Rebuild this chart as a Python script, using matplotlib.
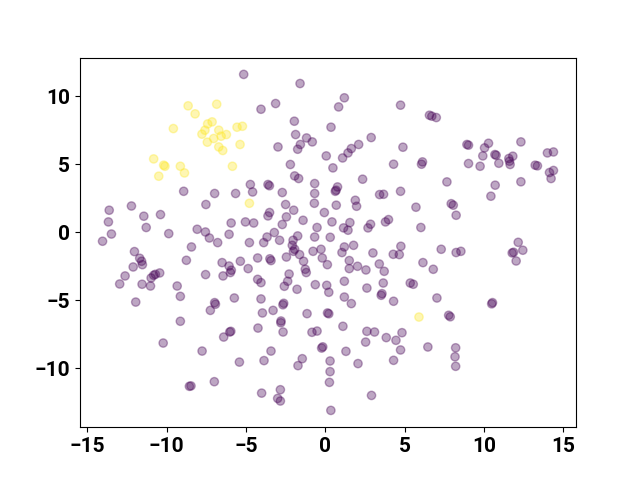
import numpy as np
import matplotlib
matplotlib.use("Agg")
import matplotlib.pyplot as plt

plt.rcParams['font.family'] = ['Roboto', 'DejaVu Sans']
plt.rcParams['font.weight'] = 'bold'
plt.rcParams['font.size'] = 15

# embedding points, class 1 (yellow)
pts_yellow = [
    (-8.64, 9.29), (-8.20, 8.70), (-9.57, 7.62), (-7.77, 7.21), (-7.58, 7.50),
    (-10.81, 5.39), (-10.18, 4.93), (-10.10, 4.85), (-9.13, 4.85), (-8.87, 4.36),
    (-10.49, 4.12), (-6.84, 9.41), (-7.13, 8.11), (-7.41, 7.96), (-7.43, 6.62),
    (-7.03, 6.89), (-6.71, 7.50), (-6.56, 7.06), (-6.23, 7.18), (-6.71, 6.27),
    (-6.46, 6.01), (-5.56, 7.72), (-5.22, 7.79), (-5.37, 6.45), (-5.85, 4.85),
    (-4.78, 2.13), (5.90, -6.23),
]

# embedding points, class 0 (purple)
pts_purple = [
    (-5.14, 11.60), (-1.59, 10.93), (-4.05, 9.04), (-3.13, 9.46), (-1.95, 8.16),
    (-1.87, 7.18), (-1.18, 6.93), (-0.82, 6.64), (-1.57, 6.45), (-1.74, 6.10),
    (-2.98, 6.27), (0.06, 5.61), (-2.20, 4.98), (-1.93, 4.14), (-1.68, 3.95),
    (1.20, 9.88), (0.84, 9.21), (4.74, 9.34), (6.56, 8.60), (6.71, 8.53),
    (6.99, 8.43), (0.36, 7.72), (2.89, 6.96), (2.10, 6.45), (1.64, 6.15),
    (1.43, 5.83), (1.09, 5.46), (0.48, 4.73), (4.89, 6.25), (4.30, 5.00),
    (6.12, 5.17), (6.06, 5.00), (2.35, 3.90), (7.66, 3.70),
    (8.92, 6.45), (9.02, 6.40), (10.03, 6.20), (10.28, 6.54), (9.92, 5.61),
    (10.68, 5.71), (10.76, 5.66), (12.32, 6.64), (9.02, 5.05), (9.75, 4.85),
    (10.93, 5.07), (11.56, 5.42), (11.81, 5.59), (11.60, 5.22), (11.64, 4.98),
    (13.22, 4.93), (13.36, 4.88), (13.99, 5.83), (14.37, 5.90), (14.12, 4.39),
    (14.37, 4.54), (14.22, 3.95), (12.32, 3.71),
    (-8.92, 3.01), (-13.61, 1.62), (-12.21, 1.93), (-13.66, 0.76), (-13.47, -0.13),
    (-14.03, -0.66), (-11.43, 1.18), (-10.38, 1.30), (-11.28, 0.35), (-9.86, -0.10),
    (-8.07, 0.22), (-7.55, 0.02), (-7.52, 2.04), (-8.43, -1.08), (-8.75, -2.06),
    (-12.02, -1.42), (-11.69, -1.91), (-11.52, -2.38), (-12.10, -2.55), (-11.57, -2.13),
    (-12.61, -3.21), (-12.95, -3.80), (-10.43, -2.99), (-10.81, -3.16), (-10.70, -3.09),
    (-10.97, -3.36), (-11.54, -3.82), (-11.01, -3.95), (-9.33, -3.95), (-9.13, -4.71),
    (-11.94, -5.13), (-7.54, -3.11),
    (-4.72, 3.51), (-3.61, 3.51), (-3.52, 3.42), (-6.97, 2.85), (-5.65, 2.85),
    (-4.58, 2.96), (-2.71, 2.92), (-0.67, 3.58), (-0.67, 2.85), (-2.50, 2.04),
    (-1.99, 1.62), (-0.69, 2.13), (-0.06, 1.45), (-3.51, 1.45), (-3.61, 1.20),
    (-2.45, 1.13), (-1.40, 0.88), (-5.93, 0.68), (-5.03, 0.76), (-4.51, 0.68),
    (-2.71, 0.57), (-0.52, 0.35),
    (-7.30, -0.42), (-6.78, -0.76), (-6.06, -0.15), (-4.78, -0.76), (-3.67, -0.35),
    (-3.88, -0.76), (-3.21, -0.02), (-2.88, -0.59), (-1.74, -0.27), (-2.03, -0.59),
    (-2.08, -0.96), (-1.93, -1.25), (-2.01, -1.40), (-1.62, -1.64), (-0.67, -0.35),
    (0.31, -0.37), (-0.77, -1.40), (-0.27, -1.25), (-0.19, -1.89), (-1.37, -2.13),
    (-2.45, -1.82), (-4.26, -1.89), (-5.35, -2.13), (-6.50, -2.23), (-6.06, -2.48),
    (-5.98, -2.96), (-5.92, -2.79), (-6.44, -3.21), (-4.86, -2.67), (-3.42, -2.08),
    (-3.49, -1.95), (-1.26, -2.72), (-1.20, -2.96), (-2.28, -3.07), (-2.37, -3.60),
    (-2.58, -3.97), (-1.78, -4.19), (-0.63, -3.85), (0.09, -3.90), (0.22, -4.41),
    (-4.26, -3.46), (-4.05, -3.70), (-5.73, -4.83), (-4.05, -4.90), (-6.97, -5.17),
    (-6.92, -5.29), (-2.62, -5.22), (-2.67, -5.33),
    (0.77, 3.33), (0.63, 3.01), (0.68, 3.09), (3.42, 2.77), (3.67, 2.79),
    (4.74, 3.01), (1.89, 2.35), (1.97, 1.91), (0.69, 1.99), (5.71, 1.84),
    (8.06, 1.99), (7.93, 2.10), (8.24, 1.25), (0.42, 0.76), (1.15, 0.32),
    (1.43, 0.15), (1.55, 0.71), (2.69, 0.32), (2.85, 0.59), (3.79, 0.76),
    (3.98, 0.93), (6.02, 0.35), (1.20, -1.08), (1.05, -1.49), (1.78, -0.96),
    (3.00, -1.52), (4.28, -1.62), (4.66, -1.64), (4.76, -1.03), (7.30, -1.25),
    (8.24, -1.49), (8.54, -1.40), (0.13, -2.38), (1.51, -2.08), (1.51, -2.67),
    (2.03, -2.50), (2.56, -2.77), (3.40, -2.33), (3.71, -2.87), (6.15, -2.23),
    (6.80, -2.72), (1.20, -3.60), (3.65, -3.73), (5.35, -3.73), (5.54, -3.82),
    (2.62, -4.10), (3.57, -4.51), (3.52, -4.63), (1.20, -4.76), (1.64, -5.24),
    (4.30, -5.07), (7.03, -4.83),
    (10.70, 3.46), (10.43, 2.65), (12.15, -0.74), (12.44, -1.32), (11.77, -1.52),
    (11.86, -1.47), (12.02, -2.11), (10.53, -5.17), (10.48, -5.26),
    (-9.13, -6.54), (-10.21, -8.14), (-7.76, -8.73), (-8.56, -11.32), (-8.46, -11.29),
    (-7.24, -5.74), (-3.96, -5.93), (-3.29, -5.74), (-2.79, -6.52), (-2.80, -6.65),
    (-2.66, -7.33), (-1.15, -5.98), (0.14, -5.93), (0.22, -5.99), (-6.02, -7.33),
    (-5.95, -7.28), (-6.40, -7.70), (-4.24, -7.04), (-0.84, -7.35), (-0.52, -7.26),
    (-0.23, -8.51), (-0.16, -8.42), (-5.41, -9.54), (-3.42, -8.73), (-3.86, -9.43),
    (-1.45, -9.29), (-1.72, -9.80), (0.30, -9.46), (0.30, -10.24), (0.26, -11.03),
    (-6.99, -10.98), (-4.01, -11.82), (-2.83, -11.57), (-3.00, -12.21), (-2.83, -12.40),
    (0.35, -13.09),
    (1.11, -6.91), (2.62, -7.28), (3.10, -7.33), (2.54, -8.07), (3.84, -7.74),
    (4.45, -7.94), (4.83, -7.38), (4.74, -8.65), (4.30, -9.41), (6.46, -8.43),
    (8.21, -8.49), (1.30, -8.75), (2.06, -9.65), (2.91, -11.99), (8.17, -9.15),
    (8.21, -9.85), (7.77, -6.10), (7.87, -6.21),
]

pts = np.array(pts_purple + pts_yellow)
labels = np.array([0] * len(pts_purple) + [1] * len(pts_yellow))

fig, ax = plt.subplots(figsize=(6.4, 4.8), dpi=100)
ax.scatter(pts[:, 0], pts[:, 1], c=labels, cmap='viridis', alpha=0.35)

plt.savefig("out.png")
